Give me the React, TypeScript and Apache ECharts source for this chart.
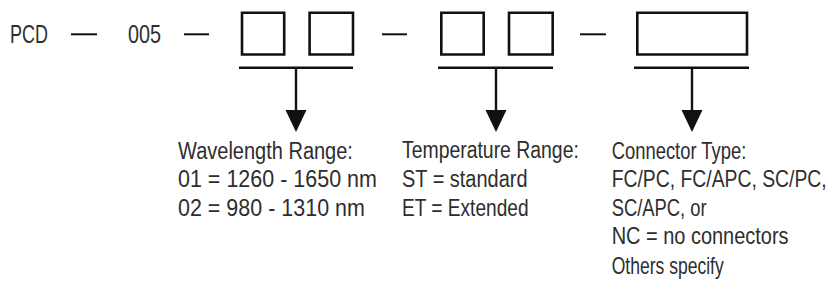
import React, { useEffect, useRef } from "react";
import * as echarts from "echarts";

// ---- content ----
const codeParts = ["PCD", "005"];
const wavelengthLines = ["Wavelength Range:", "01 = 1260 - 1650 nm", "02 = 980 - 1310 nm"];
const temperatureLines = ["Temperature Range:", "ST = standard", "ET = Extended"];
const connectorLines = [
  "Connector Type:",
  "FC/PC, FC/APC, SC/PC,",
  "SC/APC, or",
  "NC = no connectors",
  "Others specify",
];

// ---- layout (positions / sizes) ----
const W = 834;
const H = 283;
const FONT = '"Liberation Sans", Arial, sans-serif';
const TOP_SIZE = 26;
const BOTTOM_SIZE = 23;
const TOP_Y = 34;
const codeLayout = [
  { x: 10, w: 38 },
  { x: 128, w: 33 },
];
const dashLayout = [
  [71, 97],
  [184, 209],
  [382, 407],
  [580, 606],
];
const groupLayout = [
  { boxes: [[240.7, 285.5], [308.3, 354.3]], bar: [239, 353], stem: 296 },
  { boxes: [[440, 485], [507.7, 554]], bar: [438, 553], stem: 496 },
  { boxes: [[636, 748.3]], bar: [634, 749], stem: 692 },
];
const BOX_TOP = 11.5;
const BOX_BOTTOM = 55.8;
const BAR_Y = 67.7;
const ARROW_TOP = 110;
const ARROW_TIP = 132;
const ARROW_HALF = 10.5;
const columnLayout = [
  { x: 178, widths: [175, 199, 187] },
  { x: 402, widths: [177, 126, 127] },
  { x: 611.7, widths: [135, 215, 95, 177, 112] },
];
const LINE_Y0 = 150.5;
const LINE_STEP = 28.75;
const TEXT_COLOR = "#2e2e2e";
const LINE_COLOR = "#111111";

function measure(text: string, size: number): number {
  const c = document.createElement("canvas");
  const ctx = c.getContext("2d");
  if (!ctx) return text.length * size * 0.5;
  ctx.font = `${size}px ${FONT}`;
  return ctx.measureText(text).width;
}

function textEl(text: string, x: number, y: number, size: number, width: number) {
  const sx = width / measure(text, size);
  return {
    type: "text",
    x,
    y,
    scaleX: sx,
    silent: true,
    style: {
      text,
      x: 0,
      y: 0,
      fill: TEXT_COLOR,
      font: `${size}px ${FONT}`,
      align: "left",
      verticalAlign: "middle",
      textAlign: "left",
      textVerticalAlign: "middle",
    },
  };
}

export default function App() {
  const ref = useRef<HTMLDivElement>(null);
  useEffect(() => {
    if (!ref.current) return;
    const chart = echarts.init(ref.current, undefined, { renderer: "svg" });
    const elements: any[] = [];

    codeParts.forEach((t, i) => {
      elements.push(textEl(t, codeLayout[i].x, TOP_Y, TOP_SIZE, codeLayout[i].w));
    });

    dashLayout.forEach(([x1, x2]) => {
      elements.push({
        type: "line",
        shape: { x1, y1: TOP_Y + 0.3, x2, y2: TOP_Y + 0.3 },
        style: { stroke: LINE_COLOR, lineWidth: 2 },
      });
    });

    const sw = 2.6;
    groupLayout.forEach((g) => {
      g.boxes.forEach(([l, r]) => {
        elements.push({
          type: "rect",
          shape: {
            x: l + sw / 2,
            y: BOX_TOP + sw / 2,
            width: r - l - sw,
            height: BOX_BOTTOM - BOX_TOP - sw,
          },
          style: { fill: "none", stroke: LINE_COLOR, lineWidth: sw },
        });
      });
      elements.push({
        type: "line",
        shape: { x1: g.bar[0], y1: BAR_Y, x2: g.bar[1], y2: BAR_Y },
        style: { stroke: LINE_COLOR, lineWidth: 2.6 },
      });
      elements.push({
        type: "line",
        shape: { x1: g.stem, y1: BAR_Y, x2: g.stem, y2: ARROW_TOP + 1 },
        style: { stroke: LINE_COLOR, lineWidth: 2.4 },
      });
      elements.push({
        type: "polygon",
        shape: {
          points: [
            [g.stem - ARROW_HALF, ARROW_TOP],
            [g.stem + ARROW_HALF, ARROW_TOP],
            [g.stem, ARROW_TIP],
          ],
        },
        style: { fill: LINE_COLOR, stroke: "none" },
      });
    });

    [wavelengthLines, temperatureLines, connectorLines].forEach((lines, ci) => {
      const col = columnLayout[ci];
      lines.forEach((t, li) => {
        elements.push(textEl(t, col.x, LINE_Y0 + li * LINE_STEP, BOTTOM_SIZE, col.widths[li]));
      });
    });

    chart.setOption({
      animation: false,
      backgroundColor: "#ffffff",
      graphic: { elements },
    });
    return () => chart.dispose();
  }, []);

  return (
    <div
      ref={ref}
      style={{ position: "fixed", left: 0, top: 0, width: W, height: H }}
    />
  );
}
